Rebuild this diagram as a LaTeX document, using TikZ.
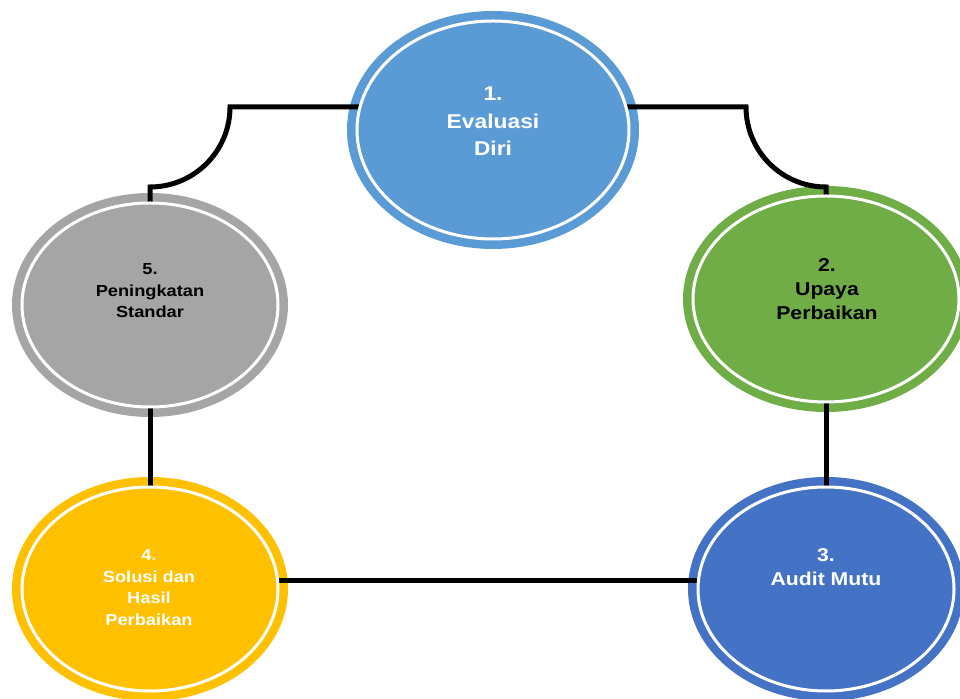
\documentclass[tikz,border=0pt]{standalone}
\usepackage{fontspec}
\setmainfont{Liberation Sans}[FakeStretch=1.14]
\usetikzlibrary{shapes.geometric}
\pgfdeclarelayer{bg}
\pgfsetlayers{bg,main}
\definecolor{cone}{HTML}{5B9BD5}
\definecolor{ctwo}{HTML}{70AD47}
\definecolor{cthree}{HTML}{4472C4}
\definecolor{cfour}{HTML}{FFC000}
\definecolor{cfive}{HTML}{A5A5A5}
\newcommand{\stacklines}[3]{\fontsize{#1}{#2}\selectfont\begin{tabular}[t]{@{}c@{}}#3\end{tabular}}
\tikzset{
  innerell/.style n args={3}{ellipse, draw=white, line width=3pt, fill=#1,
    minimum width=#2, minimum height=#3, inner sep=0pt, outer sep=0pt},
  lbl/.style={anchor=base, inner sep=0pt, outer sep=0pt, font=\bfseries},
  conn/.style={draw=black, line width=5pt}
}
\begin{document}
\begin{tikzpicture}[x=1pt,y=1pt]
\useasboundingbox (0,0) rectangle (960,698);
% inner ellipses
\node[innerell={cone}{272pt}{218pt}] (n1) at (493,568) {};
\node[innerell={ctwo}{266pt}{206pt}] (n2) at (826,399) {};
\node[innerell={cthree}{256pt}{204pt}] (n3) at (826,109) {};
\node[innerell={cfour}{256pt}{204pt}] (n4) at (150,109) {};
\node[innerell={cfive}{256pt}{204pt}] (n5) at (150,393) {};
% labels
\node[lbl, text=white] (t1) at (493,597) {\stacklines{20}{27.5}{1.\\Evaluasi\\Diri}};
\node[lbl, text=black] (t2) at (827,426.5) {\stacklines{18.6}{24}{2.\\Upaya\\Perbaikan}};
\node[lbl, text=white] (t3) at (826,136.5) {\stacklines{18.6}{24.3}{3.\\Audit Mutu}};
\node[lbl, text=white] (t4) at (149,137.5) {\stacklines{16}{21.7}{4.\\Solusi dan\\Hasil\\Perbaikan}};
\node[lbl, text=black] (t5) at (150,423) {\stacklines{16}{21.5}{5.\\Peningkatan\\Standar}};
\begin{pgfonlayer}{bg}
  % outer rings
  \fill[cone] (n1.center) ellipse [x radius=146, y radius=119];
  \fill[ctwo] (n2.center) ellipse [x radius=143, y radius=113];
  \fill[cthree] (n3.center) ellipse [x radius=138, y radius=112];
  \fill[cfour] (n4.center) ellipse [x radius=138, y radius=112];
  \fill[cfive] (n5.center) ellipse [x radius=138, y radius=112];
  % connectors
  \draw[conn] (n5.north) -- ++(0,16) arc[start angle=-90, end angle=0, radius=80] coordinate (lc) -- (n1.170 |- lc);
  \draw[conn] (n2.north) -- ++(0,9) arc[start angle=270, end angle=180, radius=80] coordinate (rc) -- (n1.10 |- rc);
  \draw[conn] (n2.south) -- (n3.north);
  \draw[conn] (n5.south) -- (n4.north);
  \draw[conn] (n4.4) -- (n3.176);
\end{pgfonlayer}
\end{tikzpicture}
\end{document}
